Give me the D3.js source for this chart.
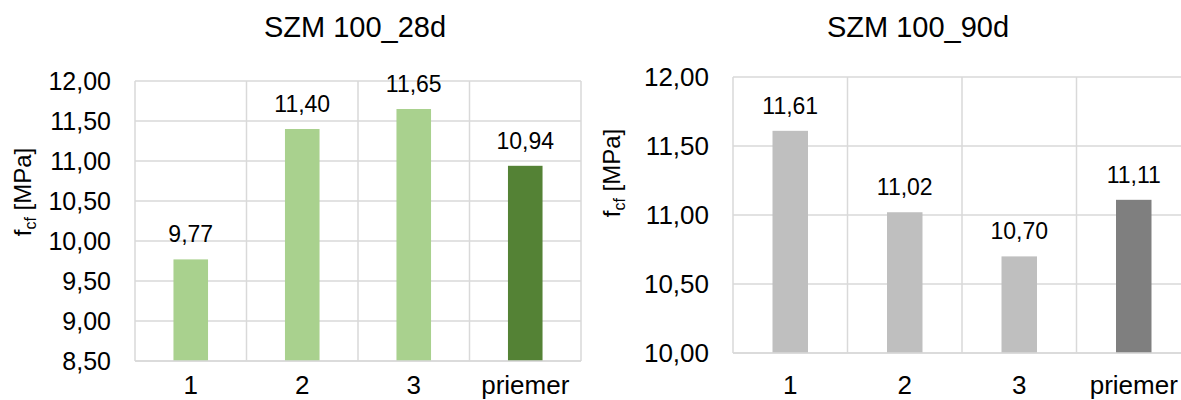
<!DOCTYPE html>
<html>
<head>
<meta charset="utf-8">
<script src="https://cdn.jsdelivr.net/npm/d3@7"></script>
<style>
  body { margin: 0; background: #fff; }
  svg { display: block; font-family: "Liberation Sans", Arial, sans-serif; }
</style>
</head>
<body>
<svg id="chart" width="1181" height="400"></svg>
<script>
// ---- data ----
const categories = ["1", "2", "3", "priemer"];
const values28 = [9.77, 11.40, 11.65, 10.94];
const values90 = [11.61, 11.02, 10.70, 11.11];
const ticks28 = [8.5, 9.0, 9.5, 10.0, 10.5, 11.0, 11.5, 12.0];
const ticks90 = [10.0, 10.5, 11.0, 11.5, 12.0];
const titles = ["SZM 100_28d", "SZM 100_90d"];

const svg = d3.select("#chart");
const loc = d3.formatLocale({decimal: ",", thousands: " ", grouping: [3], currency: ["", ""]});
const fmt = loc.format(".2f");

const charts = [
  {title: titles[0], values: values28, ticks: ticks28,
   x0: 135, x1: 581, yTop: 81, yBot: 361,
   colors: ["#A9D18E", "#A9D18E", "#A9D18E", "#548235"],
   titleX: 355, titleY: 37, tickFont: 25, ylabX: 31, ylabY: 192, catY: 394},
  {title: titles[1], values: values90, ticks: ticks90,
   x0: 733, x1: 1191, yTop: 77, yBot: 353,
   colors: ["#BFBFBF", "#BFBFBF", "#BFBFBF", "#7F7F7F"],
   titleX: 918, titleY: 37, tickFont: 26, ylabX: 620, ylabY: 173, catY: 394}
];

charts.forEach(c => {
  const g = svg.append("g");
  const x = d3.scaleBand().domain(categories).range([c.x0, c.x1]).paddingInner(0).paddingOuter(0);
  const y = d3.scaleLinear().domain([c.ticks[0], c.ticks[c.ticks.length - 1]]).range([c.yBot, c.yTop]);

  // horizontal gridlines
  g.append("g").selectAll("line").data(c.ticks).join("line")
    .attr("x1", c.x0).attr("x2", c.x1)
    .attr("y1", d => y(d)).attr("y2", d => y(d))
    .attr("stroke", "#D9D9D9").attr("stroke-width", 1.5);
  // vertical gridlines at category boundaries
  const bounds = categories.map(d => x(d)).concat([c.x1]);
  g.append("g").selectAll("line").data(bounds).join("line")
    .attr("x1", d => d).attr("x2", d => d)
    .attr("y1", c.yTop).attr("y2", c.yBot)
    .attr("stroke", "#D9D9D9").attr("stroke-width", 1.5);

  // bars
  const bw = x.bandwidth() * 0.31;
  g.append("g").selectAll("rect").data(c.values).join("rect")
    .attr("x", (d, i) => x(categories[i]) + x.bandwidth() / 2 - bw / 2)
    .attr("width", bw)
    .attr("y", d => y(d))
    .attr("height", d => c.yBot - y(d))
    .attr("fill", (d, i) => c.colors[i]);

  // axis line (bottom)
  g.append("line").attr("x1", c.x0).attr("x2", c.x1)
    .attr("y1", c.yBot).attr("y2", c.yBot)
    .attr("stroke", "#D9D9D9").attr("stroke-width", 1.5);

  // value labels
  g.append("g").selectAll("text").data(c.values).join("text")
    .attr("x", (d, i) => x(categories[i]) + x.bandwidth() / 2)
    .attr("y", d => y(d) - 17)
    .attr("text-anchor", "middle")
    .attr("font-size", 23).attr("fill", "#000")
    .text(d => fmt(d));

  // y axis via d3
  const yAxis = d3.axisLeft(y).tickValues(c.ticks).tickSize(0).tickPadding(24).tickFormat(fmt);
  const ya = g.append("g").attr("transform", `translate(${c.x0},0)`).call(yAxis);
  ya.select(".domain").remove();
  ya.selectAll("text").attr("font-size", c.tickFont).attr("fill", "#000")
    .attr("font-family", "Liberation Sans, Arial, sans-serif");

  // category labels
  g.append("g").selectAll("text").data(categories).join("text")
    .attr("x", d => x(d) + x.bandwidth() / 2)
    .attr("y", c.catY)
    .attr("text-anchor", "middle")
    .attr("font-size", 26).attr("fill", "#000")
    .text(d => d);

  // title
  g.append("text").attr("x", c.titleX).attr("y", c.titleY)
    .attr("text-anchor", "middle").attr("font-size", 29).attr("fill", "#000")
    .text(c.title);

  // y axis title
  const yl = g.append("text")
    .attr("transform", `translate(${c.ylabX},${c.ylabY}) rotate(-90)`)
    .attr("text-anchor", "middle").attr("font-size", 24).attr("fill", "#000");
  yl.append("tspan").text("f");
  yl.append("tspan").attr("font-size", 16).attr("dy", 5).text("cf");
  yl.append("tspan").attr("dy", -5).text(" [MPa]");
});
</script>
</body>
</html>
